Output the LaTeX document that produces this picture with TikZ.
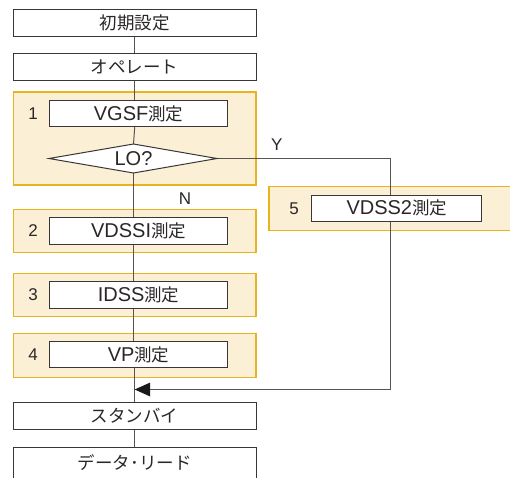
\documentclass[tikz,border=0pt]{standalone}
\usepackage{fontspec}
\setmainfont{Liberation Sans}
\newfontfamily\jp{Noto Sans CJK JP}
\usetikzlibrary{arrows.meta}
\definecolor{panelfill}{HTML}{FBF0D6}
\definecolor{panelline}{HTML}{E8B41E}
\definecolor{conn}{HTML}{5A5450}
\definecolor{boxline}{HTML}{3A3633}
\definecolor{txt}{HTML}{2A2726}
\tikzset{
  panel/.style={fill=panelfill, draw=panelline, line width=1.5pt},
  mainbox/.style={draw=boxline, fill=white, line width=1pt, minimum width=242.7pt, minimum height=27pt, inner sep=0pt, text=txt},
  innerbox/.style={draw=boxline, fill=white, line width=1pt, minimum width=177.3pt, minimum height=26.5pt, inner sep=0pt, text=txt},
  numlbl/.style={text=txt, font=\fontsize{17}{17}\selectfont, inner sep=0pt},
  yn/.style={text=txt, font=\fontsize{17}{17}\selectfont, inner sep=0pt},
  conline/.style={draw=conn, line width=1pt},
}
\newcommand{\J}[1]{{\jp\fontsize{17.5}{17.5}\selectfont #1}}
\begin{document}
\begin{tikzpicture}[x=1pt, y=-1pt]
\useasboundingbox (0,0) rectangle (510,477);
\fill[white] (0,0) rectangle (510,477);
% panels
\draw[panel] (13.3,92) rectangle (256,185);
\draw[panel] (13.3,209.3) rectangle (256,252.7);
\draw[panel] (13.3,273.3) rectangle (256,316.7);
\draw[panel] (13.3,333.3) rectangle (256,377.3);
\fill[panelfill] (269,186.7) rectangle (510,230.7);
\draw[panelline, line width=1.5pt] (510,186.7) -- (269,186.7) -- (269,230.7) -- (510,230.7);
% key points
\coordinate (dT) at (133.5,144);
\coordinate (dB) at (133.5,173);
\coordinate (dL) at (49,158.5);
\coordinate (dR) at (217,158.5);
\coordinate (yturn) at (390,158.5);
\coordinate (ybot) at (390,389.5);
\coordinate (join) at (134.7,389.5);
% main boxes
\node[mainbox] (init) at (134.7,22.7) {\J{初期設定}};
\node[mainbox] (oper) at (134.7,67) {\J{オペレート}};
\node[mainbox] (stby) at (134.7,415.5) {\J{スタンバイ}};
\node[text=txt, inner sep=0pt] (read) at (134.7,463) {\J{データ･リード}};
\coordinate (readtop) at (134.7,447.3);
% inner boxes
\node[innerbox] (m1) at (138.6,113.5) {\fontsize{20}{20}\selectfont VGSF\J{測定}};
\node[innerbox] (m2) at (138.6,230.8) {\fontsize{20}{20}\selectfont VDSSI\J{測定}};
\node[innerbox] (m3) at (138.6,294.8) {\fontsize{20}{20}\selectfont IDSS\J{測定}};
\node[innerbox] (m4) at (138.6,354.7) {\fontsize{20}{20}\selectfont VP\J{測定}};
\node[innerbox, minimum width=169.7pt] (m5) at (396.8,208.3) {\fontsize{20}{20}\selectfont VDSS2\J{測定}};
% connectors
\draw[conline] (init.south) -- (oper.north);
\draw[conline] (oper.south) -- (oper.south |- m1.north);
\draw[conline] (m1.south -| oper.south) -- (dT);
\draw[conline] (dB) -- (dB |- m2.north);
\draw[conline] (m2.south -| dB) -- (m3.north -| dB);
\draw[conline] (m3.south -| dB) -- (m4.north -| dB);
\draw[conline] (m4.south -| join) -- (stby.north);
\draw[conline] (stby.south) -- (readtop);
\draw[conline] (dR) -- (yturn) -- (yturn |- m5.north);
\draw[conline] (m5.south -| ybot) -- (ybot) -- (join);
\fill[black!90] (join) -- ++(15.5,-7) -- ++(0,14) -- cycle;
% open bottom box
\draw[boxline, line width=1pt] (13.3,478) -- (13.3,447.3) -- (256,447.3) -- (256,478);
% diamond
\draw[boxline, line width=1pt, fill=white] (dT) -- (dR) -- (dB) -- (dL) -- cycle;
\node[text=txt, inner sep=0pt, font=\fontsize{20}{20}\selectfont] (lo) at (133.5,158.5) {LO?};
% numbers and labels
\node[numlbl] (n1) at (33,113.5) {1};
\node[numlbl] (n2) at (33,230.5) {2};
\node[numlbl] (n3) at (33,295) {3};
\node[numlbl] (n4) at (33,355) {4};
\node[numlbl] (n5) at (294,208.5) {5};
\node[yn] (ylab) at (276.7,145) {Y};
\node[yn] (nlab) at (185,199) {N};
\end{tikzpicture}
\end{document}
